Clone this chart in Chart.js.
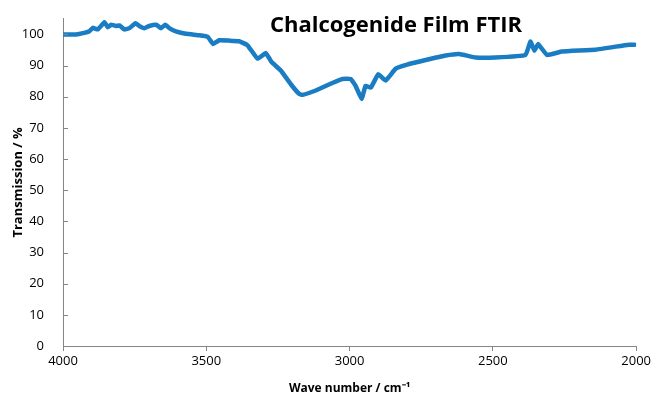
<!DOCTYPE html>
<html>
<head>
<meta charset="utf-8">
<script src="https://cdn.jsdelivr.net/npm/chart.js@4/dist/chart.umd.min.js"></script>
<style>
  html, body { margin: 0; padding: 0; background: #fff; }
  #wrap { width: 653px; height: 396px; }
</style>
</head>
<body>
<div id="wrap"><canvas id="ftir"></canvas></div>
<script>
const waveNumbers = [4000, 3954, 3930, 3908, 3896, 3879, 3855, 3844, 3832, 3815, 3803, 3786, 3768, 3747,
    3734, 3716, 3699, 3675, 3658, 3643, 3629, 3606, 3571, 3524, 3495, 3476, 3455, 3420, 3385, 3356,
    3321, 3292, 3273, 3240, 3205, 3176, 3164, 3118, 3060, 3025, 2996, 2979, 2958, 2944, 2926, 2900,
    2874, 2839, 2799, 2723, 2665, 2618, 2560, 2491, 2386, 2369, 2355, 2342, 2311, 2259, 2142, 2026, 2005];
const transmission = [100.0, 100.0, 100.4, 101.0, 102.1, 101.6, 103.9, 102.3, 103.1, 102.7, 102.9, 101.6, 102.0, 103.6,
    102.7, 102.0, 102.7, 103.1, 102.0, 103.1, 102.0, 101.0, 100.2, 99.7, 99.2, 96.9, 98.1, 98.0, 97.8, 96.5,
    92.2, 94.0, 91.2, 88.4, 84.0, 80.9, 80.6, 82.0, 84.4, 85.7, 85.7, 83.5, 79.3, 83.5, 82.9, 87.2,
    85.2, 89.0, 90.3, 92.0, 93.2, 93.7, 92.6, 92.6, 93.4, 97.7, 94.8, 96.9, 93.4, 94.5, 95.1, 96.7, 96.7];
const yTicks = [0, 10, 20, 30, 40, 50, 60, 70, 80, 90, 100];
const xTicks = [4000, 3500, 3000, 2500, 2000];
const chartTitle = 'Chalcogenide Film FTIR';

// Título dibujado encima del área del gráfico
const titlePlugin = {
    id: 'titleOverlay',
    afterDraw(chart) {
        const ctx = chart.ctx;
        ctx.save();
        ctx.font = 'bold 22px "Open Sans"';
        ctx.fillStyle = '#000';
        ctx.textAlign = 'center';
        ctx.textBaseline = 'alphabetic';
        ctx.fillText(chartTitle, 396, 32);
        ctx.restore();
    }
};

// Marcas del eje Y hacia adentro
const innerTicks = {
    id: 'innerTicks',
    afterDraw(chart) {
        const ctx = chart.ctx;
        const y = chart.scales.y;
        const left = chart.chartArea.left;
        ctx.save();
        ctx.strokeStyle = '#868686';
        ctx.lineWidth = 1;
        yTicks.forEach(function (v) {
            const py = Math.round(y.getPixelForValue(v)) + 0.5;
            ctx.beginPath();
            ctx.moveTo(left, py);
            ctx.lineTo(left + 5, py);
            ctx.stroke();
        });
        ctx.restore();
    }
};

const points = waveNumbers.map(function (w, i) { return { x: w, y: transmission[i] }; });

new Chart(document.getElementById('ftir').getContext('2d'), {
    type: 'line',
    data: {
        datasets: [{
            data: points,
            borderColor: '#1a7dc4',
            borderWidth: 4.5,
            pointRadius: 0,
            tension: 0.1,
            borderCapStyle: 'round',
            borderJoinStyle: 'round',
            fill: false
        }]
    },
    options: {
        responsive: true,
        maintainAspectRatio: false,
        animation: false,
        layout: { padding: { top: 17, right: 16, left: 10, bottom: 0 } },
        plugins: {
            legend: { display: false },
            tooltip: { enabled: false },
            title: { display: false }
        },
        scales: {
            x: {
                type: 'linear',
                reverse: true,
                min: 2000,
                max: 4000,
                afterBuildTicks: function (scale) {
                    scale.ticks = xTicks.map(function (v) { return { value: v }; });
                },
                afterFit: function (scale) { scale.height = 50; },
                grid: { display: true, drawOnChartArea: false, tickLength: 5, color: '#868686' },
                border: { color: '#868686' },
                ticks: {
                    color: '#000',
                    font: { family: 'Open Sans', size: 13 },
                    padding: 2,
                    maxRotation: 0,
                    callback: function (v) { return String(v); }
                },
                title: {
                    display: true,
                    text: 'Wave number / cm⁻¹',
                    color: '#000',
                    font: { family: 'Open Sans', size: 12, weight: 'bold' },
                    padding: { top: 1, bottom: 0 }
                }
            },
            y: {
                min: 0,
                max: 105,
                afterBuildTicks: function (scale) {
                    scale.ticks = yTicks.map(function (v) { return { value: v }; });
                },
                afterFit: function (scale) { scale.width = 53; },
                grid: { display: false },
                border: { color: '#868686' },
                ticks: { color: '#000', font: { family: 'Open Sans', size: 13 }, padding: 11 },
                title: {
                    display: true,
                    text: 'Transmission / %',
                    color: '#000',
                    font: { family: 'Open Sans', size: 13, weight: 'bold' },
                    padding: { top: 0, bottom: 0 }
                }
            }
        }
    },
    plugins: [titlePlugin, innerTicks]
});
</script>
</body>
</html>
